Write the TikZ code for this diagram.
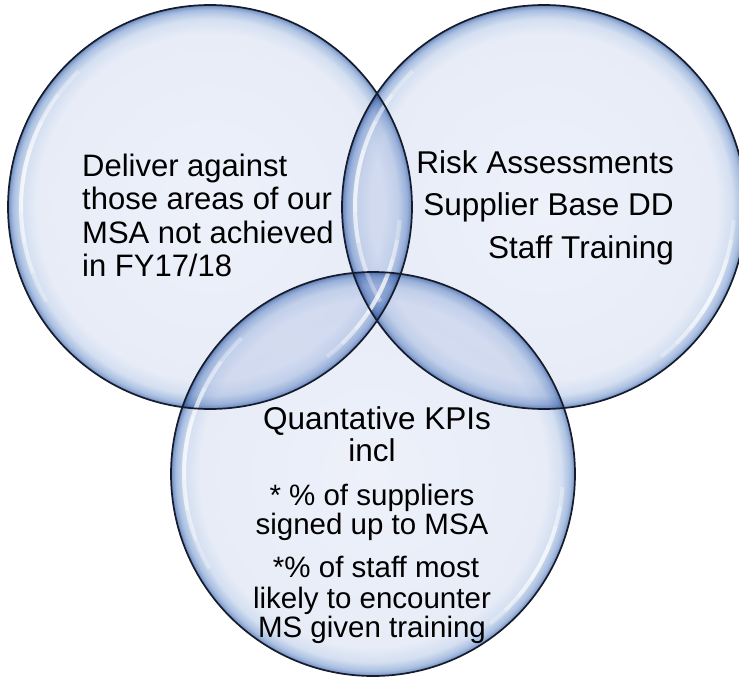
\documentclass[tikz,border=0pt]{standalone}
\usepackage{fontspec}
\setmainfont{Liberation Sans}
\definecolor{bC0}{RGB}{238,241,250}
\definecolor{bC1}{RGB}{231,236,247}
\definecolor{bC2}{RGB}{212,223,241}
\definecolor{bC3}{RGB}{168,190,224}
\definecolor{bC4}{RGB}{130,158,204}
\definecolor{bC5}{RGB}{100,128,178}
\definecolor{rimcol}{RGB}{22,28,44}
\pgfdeclareradialshading{bubble}{\pgfpoint{0bp}{0bp}}{color(0bp)=(bC0); color(21.5bp)=(bC1); color(23.3bp)=(bC2); color(24.4bp)=(bC3); color(24.8bp)=(bC4); color(25bp)=(bC5); color(50bp)=(bC5)}
\tikzset{
  bubblefill/.style={circle, inner sep=0pt, outer sep=0pt, minimum size=404pt, shade, shading=bubble},
  rim/.style={draw=rimcol, line width=1.7pt},
  glow/.style={draw=white, line width=4pt, draw opacity=0.3, line cap=butt},
  txtL/.style={font=\fontsize{31}{34}\selectfont, inner sep=0pt, anchor=base west},
  txtR/.style={font=\fontsize{31.5}{34}\selectfont, inner sep=0pt, anchor=base east},
  txtB/.style={font=\fontsize{29.5}{32}\selectfont, inner sep=0pt, anchor=base},
  txtBig/.style={font=\fontsize{31.5}{34}\selectfont, inner sep=0pt, anchor=base}
}
\newcommand\glowarc[4]{%
  \foreach \w in {#3, 0.75*#3, 0.5*#3, 0.25*#3} {
    \draw[glow] ([shift={({#2-\w}:#4)}]#1.center) arc[start angle={#2-\w}, end angle={#2+\w}, radius=#4];
  }}
\begin{document}
\begin{tikzpicture}[x=1pt,y=-1pt]
\useasboundingbox (0,0) rectangle (739,678);
\fill[white] (0,0) rectangle (739,678);
\begin{scope}[blend mode=multiply]
  \node[bubblefill] (L) at (210,207) {};
  \node[bubblefill] (R) at (544,207) {};
  \node[bubblefill] (B) at (373,474) {};
\end{scope}
% highlights
\glowarc{L}{188}{38}{189}
\glowarc{R}{188}{38}{189}
\glowarc{B}{188}{38}{189}
\glowarc{L}{28}{24}{190}
\glowarc{R}{28}{24}{190}
\glowarc{B}{28}{24}{190}
% outlines
\draw[rim] (L) circle[radius=202];
\draw[rim] (R) circle[radius=202];
\draw[rim] (B) circle[radius=202];
% texts
\node[txtL] (l1) at (82,176) {Deliver against};
\node[txtL] (l2) at (82,209.5) {those areas of our};
\node[txtL] (l3) at (82,243) {MSA not achieved};
\node[txtL] (l4) at (82,276.5) {in FY17/18};
\node[txtR] (r1) at (674,173) {Risk Assessments};
\node[txtR] (r2) at (674,215.5) {Supplier Base DD};
\node[txtR] (r3) at (674,258) {Staff Training};
\node[txtBig] (b1) at (377,429) {Quantative KPIs};
\node[txtBig] (b2) at (372,461) {incl};
\node[txtB] (b3) at (372,505) {* \% of suppliers};
\node[txtB] (b4) at (372,534) {signed up to MSA};
\node[txtB] (b5) at (376,577) {*\% of staff most};
\node[txtB] (b6) at (372,608) {likely to encounter};
\node[txtB] (b7) at (372,637) {MS given training};
\end{tikzpicture}
\end{document}
